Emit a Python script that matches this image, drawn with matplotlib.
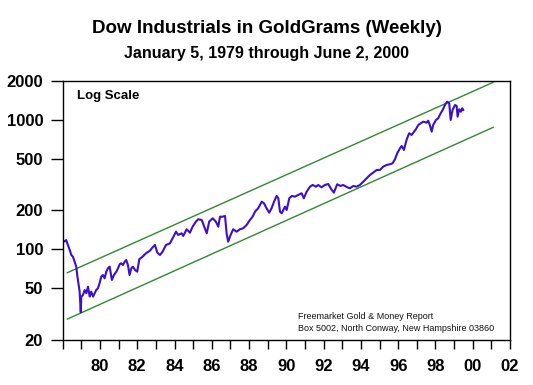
import matplotlib
matplotlib.use("Agg")
import matplotlib.pyplot as plt
from matplotlib.ticker import FixedLocator, NullFormatter, NullLocator

plt.rcParams['font.family'] = ['Liberation Sans', 'DejaVu Sans']

# Weekly Dow/gold ratio (axis-year positions as drawn, value in goldgrams)
years = [1978.00, 1978.11, 1978.19, 1978.28, 1978.38, 1978.46, 1978.55, 1978.64, 1978.73, 1978.78,
         1978.86, 1978.91, 1978.97, 1979.00, 1979.09, 1979.18, 1979.27, 1979.36, 1979.45, 1979.53,
         1979.63, 1979.72, 1979.80, 1979.89, 1979.98, 1980.07, 1980.16, 1980.25, 1980.34, 1980.43,
         1980.52, 1980.58, 1980.64, 1980.75, 1980.88, 1980.97, 1981.06, 1981.14, 1981.23, 1981.33,
         1981.41, 1981.50, 1981.59, 1981.68, 1981.77, 1981.88, 1982.00, 1982.11, 1982.29, 1982.47,
         1982.68, 1982.83, 1982.95, 1983.08, 1983.22, 1983.36, 1983.54, 1983.76, 1983.90, 1984.08,
         1984.20, 1984.38, 1984.47, 1984.65, 1984.83, 1984.97, 1985.15, 1985.27, 1985.46, 1985.58,
         1985.73, 1985.86, 1986.05, 1986.22, 1986.35, 1986.44, 1986.58, 1986.71, 1986.80, 1986.88,
         1987.01, 1987.15, 1987.33, 1987.51, 1987.69, 1987.87, 1988.05, 1988.19, 1988.32, 1988.49,
         1988.68, 1988.80, 1988.94, 1989.08, 1989.21, 1989.34, 1989.48, 1989.57, 1989.66, 1989.75,
         1989.93, 1990.02, 1990.16, 1990.29, 1990.46, 1990.64, 1990.82, 1990.94, 1991.09, 1991.27,
         1991.41, 1991.59, 1991.71, 1991.89, 1992.07, 1992.25, 1992.38, 1992.55, 1992.73, 1992.91,
         1993.05, 1993.27, 1993.41, 1993.59, 1993.77, 1993.95, 1994.13, 1994.31, 1994.49, 1994.66,
         1994.85, 1995.02, 1995.20, 1995.38, 1995.56, 1995.70, 1995.83, 1995.95, 1996.10, 1996.19,
         1996.31, 1996.45, 1996.59, 1996.72, 1996.85, 1996.95, 1997.08, 1997.21, 1997.35, 1997.53,
         1997.61, 1997.70, 1997.80, 1997.88, 1998.03, 1998.15, 1998.28, 1998.39, 1998.51, 1998.63,
         1998.74, 1998.82, 1998.92, 1999.05, 1999.14, 1999.19, 1999.28, 1999.37, 1999.44, 1999.49]
ratio = [118, 115, 118, 108, 99, 90.5, 87.9, 80.4, 73.6, 63.4,
         53.1, 47.2, 32.7, 43.2, 44.5, 48.6, 45.9, 51.6, 43.2, 47.2,
         43.2, 45.9, 48.6, 50.1, 54.8, 61.6, 63.4, 59.8, 67.3, 71.5,
         73.6, 65.4, 58.1, 63.4, 67.3, 71.5, 76.8, 78.1, 75.8, 80.4,
         82.8, 75.8, 63.4, 71.5, 73.6, 69.4, 67.3, 83.9, 87.9, 93.3,
         97.7, 103.8, 108.1, 94.3, 90.5, 96.0, 108.1, 111.4, 121.8, 136.9,
         129.1, 133.1, 126.9, 142.9, 134.5, 149.6, 163.6, 170.7, 168.6, 151.5,
         133.1, 163.6, 173.8, 163.6, 149.6, 178.7, 178.7, 180.9, 131.5, 114.7,
         129.1, 142.9, 136.9, 142.9, 145.5, 154.3, 168.6, 178.7, 195.3, 207.5,
         233.3, 226.8, 207.5, 191.9, 207.5, 233.3, 258.2, 247.8, 195.3, 189.8,
         213.5, 201.3, 247.8, 258.2, 255.1, 262.9, 270.9, 247.8, 278.6, 304.5,
         313.8, 304.5, 313.8, 301.3, 313.8, 319.4, 296.0, 273.8, 317.8, 308.3,
         313.8, 301.3, 296.0, 308.3, 304.5, 313.8, 332.8, 353.5, 374.9, 390.5,
         409.7, 409.7, 434.5, 447.7, 453.3, 461.4, 495.4, 551.0, 602.4, 627.5,
         584.5, 698.2, 786.4, 762.9, 808.9, 843.8, 911.1, 939.0, 966.0, 949.0,
         983.3, 911.1, 808.9, 911.1, 995.6, 1026, 1121, 1189, 1299, 1378,
         1339, 995.6, 1189, 1299, 1277, 1056, 1204, 1153, 1226, 1189]

# Channel trend lines (start/end)
channel_years = [1978.25, 2001.10]
upper_channel = [66.1, 1944]
lower_channel = [29.0, 874]

y_ticks = [20, 50, 100, 200, 500, 1000, 2000]
y_labels = ["20", "50", "100", "200", "500", "1000", "2000"]
x_major = [1980, 1982, 1984, 1986, 1988, 1990, 1992, 1994, 1996, 1998, 2000, 2002]
x_labels = ["80", "82", "84", "86", "88", "90", "92", "94", "96", "98", "00", "02"]
x_minor = list(range(1978, 2003))

fig = plt.figure(figsize=(5.33, 3.85), dpi=100)
ax = fig.add_axes([0.1176, 0.1169, 0.8392, 0.6735])

ax.plot(channel_years, upper_channel, color='#2f8a2f', lw=1.0)
ax.plot(channel_years, lower_channel, color='#2f8a2f', lw=1.0)
ax.plot(years, ratio, color='#3b0fcf', lw=1.5)

ax.set_yscale('log')
ax.set_ylim(20, 2000)
ax.set_xlim(1978, 2002)
ax.yaxis.set_major_locator(FixedLocator(y_ticks))
ax.yaxis.set_minor_locator(NullLocator())
ax.set_yticklabels(y_labels)
ax.yaxis.set_minor_formatter(NullFormatter())
ax.xaxis.set_major_locator(FixedLocator(x_major))
ax.set_xticklabels(x_labels)
ax.xaxis.set_minor_locator(FixedLocator(x_minor))

ax.tick_params(axis='y', which='major', length=9, width=1, direction='out', pad=5,
               labelsize=12)
ax.tick_params(axis='x', which='both', length=6.5, width=1, direction='out', pad=7,
               labelsize=12)
for lab in ax.get_xticklabels() + ax.get_yticklabels():
    lab.set_fontweight('bold')
for s in ax.spines.values():
    s.set_linewidth(1.0)
    s.set_color('black')

ax.text(0.033, 0.965, "Log Scale", transform=ax.transAxes, fontsize=9.5,
        fontweight='bold', va='top', ha='left')
ax.text(0.526, 0.091, "Freemarket Gold & Money Report", transform=ax.transAxes,
        fontsize=6.5, va='center', ha='left', color='#111111')
ax.text(0.526, 0.045, "Box 5002, North Conway, New Hampshire 03860", transform=ax.transAxes,
        fontsize=6.5, va='center', ha='left', color='#111111')

fig.text(0.5, 1 - 33 / 385, "Dow Industrials in GoldGrams (Weekly)", ha='center',
         va='baseline', fontsize=13.5, fontweight='bold')
fig.text(0.5, 1 - 58 / 385, "January 5, 1979 through June 2, 2000", ha='center',
         va='baseline', fontsize=11.5, fontweight='bold')

fig.savefig("out.png", dpi=100)
